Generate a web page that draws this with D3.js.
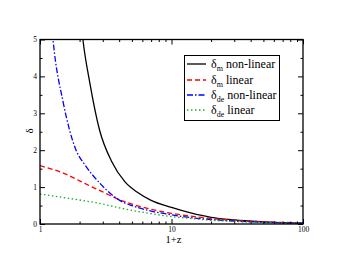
<!DOCTYPE html>
<html><head><meta charset="utf-8">
<script src="https://cdn.jsdelivr.net/npm/d3@7"></script>
<style>body{margin:0;background:#fff}svg{display:block}</style>
</head><body>
<script>
// Data (1+z, delta)
const dmNonLinear = [[2.0,5.9],[2.12,5.0],[2.4,3.8],[2.84,2.54],[3.5,1.7],[4.43,1.14],[5.5,0.86],[7,0.64],[10,0.45],[14,0.30],[20,0.18],[30,0.11],[50,0.06],[100,0.02]];
const dmLinear = [[1,1.58],[1.5,1.38],[2,1.17],[2.5,1.0],[3,0.87],[4,0.66],[5,0.54],[7,0.40],[10,0.29],[15,0.2],[20,0.15],[30,0.1],[50,0.06],[100,0.03]];
const ddeNonLinear = [[1.2,5.8],[1.256,5.0],[1.5,3.3],[1.68,2.54],[1.88,2.0],[2.2,1.6],[2.86,1.1],[3.5,0.8],[4.28,0.59],[5,0.5],[7,0.35],[10,0.25],[15,0.16],[20,0.12],[30,0.08],[50,0.045],[100,0.02]];
const ddeLinear = [[1,0.81],[1.5,0.72],[2,0.65],[3,0.54],[4,0.44],[5,0.37],[7,0.28],[10,0.2],[15,0.14],[20,0.1],[30,0.07],[50,0.04],[100,0.02]];
const xMajorTicks = [1,10,100];
const yMajorTicks = [0,1,2,3,4,5];
const seriesNames = ["non-linear","linear","non-linear","linear"];
const seriesSubs = ["m","m","de","de"];

const W=341,H=264;
const L=40,R=303,T=39.5,B=224;
const svg=d3.select("body").append("svg").attr("width",W).attr("height",H);
const x=d3.scaleLog().domain([1,100]).range([L,R]);
const y=d3.scaleLinear().domain([0,5]).range([B,T]);

svg.append("clipPath").attr("id","clip").append("rect").attr("x",L).attr("y",T).attr("width",R-L).attr("height",B-T);

const line=d3.line().x(d=>x(d[0])).y(d=>y(d[1])).curve(d3.curveMonotoneX);
const series=[
 {d:dmNonLinear,c:"#000",dash:null},
 {d:dmLinear,c:"#ff0000",dash:"5,3"},
 {d:ddeNonLinear,c:"#0000ff",dash:"6,2,1.5,2"},
 {d:ddeLinear,c:"#22aa22",dash:"1.5,2.5"}
];
const g=svg.append("g").attr("clip-path","url(#clip)");
series.forEach(s=>{
  g.append("path").attr("d",line(s.d)).attr("fill","none").attr("stroke",s.c).attr("stroke-width",1.3).attr("stroke-dasharray",s.dash);
});

const xMinor=[];for(let dec=1;dec<100;dec*=10)for(let k=2;k<=9;k++)xMinor.push(dec*k);
const yMinor=[0.5,1.5,2.5,3.5,4.5];
const fs="'Times New Roman','Liberation Serif',Times,serif";
function addAxis(axisGen,tx,ty,labels){
  const a=svg.append("g").attr("transform",`translate(${tx},${ty})`).call(axisGen);
  a.select(".domain").remove();
  a.selectAll("line").attr("stroke","#000").attr("stroke-width",1);
  if(!labels)a.selectAll("text").remove();
  else a.selectAll("text").attr("font-family",fs).attr("font-size",7.5).attr("fill","#000");
  return a;
}
addAxis(d3.axisBottom(x).tickValues(xMajorTicks).tickSize(-5).tickPadding(3).tickFormat(d3.format("d")),0,B,true);
addAxis(d3.axisBottom(x).tickValues(xMinor).tickSize(-2.5).tickFormat(""),0,B,false);
addAxis(d3.axisTop(x).tickValues(xMajorTicks).tickSize(-5),0,T,false);
addAxis(d3.axisTop(x).tickValues(xMinor).tickSize(-2.5),0,T,false);
addAxis(d3.axisLeft(y).tickValues(yMajorTicks).tickSize(-5).tickPadding(3).tickFormat(d3.format("d")),L,0,true);
addAxis(d3.axisLeft(y).tickValues(yMinor).tickSize(-2.5),L,0,false);
addAxis(d3.axisRight(y).tickValues(yMajorTicks).tickSize(-5),R,0,false);
addAxis(d3.axisRight(y).tickValues(yMinor).tickSize(-2.5),R,0,false);

svg.append("rect").attr("x",L).attr("y",T).attr("width",R-L).attr("height",B-T).attr("fill","none").attr("stroke","#000").attr("stroke-width",1.3);

svg.append("text").attr("x",(L+R)/2+2).attr("y",243).attr("text-anchor","middle").attr("font-family",fs).attr("font-size",10.5).text("1+z");
svg.append("text").attr("transform","translate(33,131) rotate(-90)").attr("text-anchor","middle").attr("font-family",fs).attr("font-size",11).text("δ");

const lg=svg.append("g");
lg.append("rect").attr("x",184.5).attr("y",55.5).attr("width",95).attr("height",65).attr("fill","#fff").attr("stroke","#000").attr("stroke-width",1);
const rowY=[64,80,95,110];
series.forEach((s,i)=>{
  const yy=rowY[i];
  lg.append("line").attr("x1",187).attr("x2",206).attr("y1",yy).attr("y2",yy).attr("stroke",s.c).attr("stroke-width",1.3).attr("stroke-dasharray",s.dash);
  const t=lg.append("text").attr("x",211).attr("y",yy+4).attr("font-family",fs).attr("font-size",12);
  t.append("tspan").text("δ");
  t.append("tspan").attr("dy",3).attr("font-size",8).text(seriesSubs[i]);
  t.append("tspan").attr("dy",-3).text("\u00a0"+seriesNames[i]);
});
</script>
</body></html>
